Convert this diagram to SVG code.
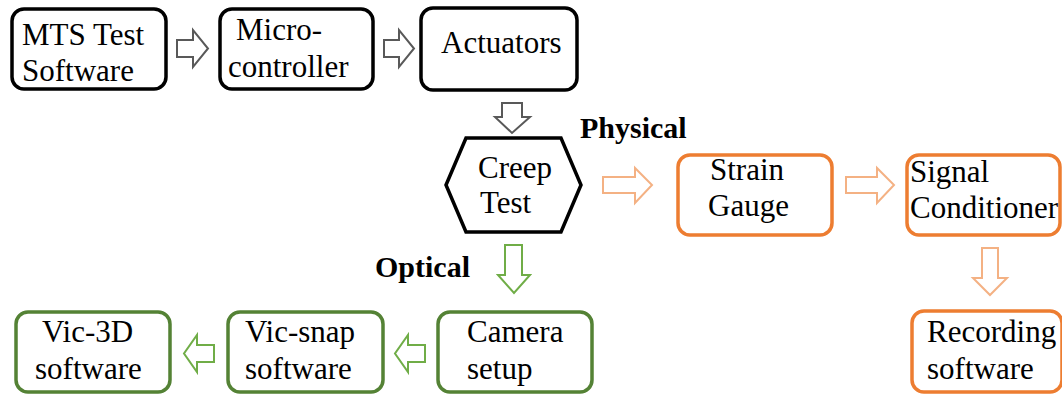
<svg xmlns="http://www.w3.org/2000/svg" width="1062" height="395" viewBox="0 0 1062 395">
<style>
.bg{fill:#fff}
.bk{fill:#fff;stroke:#000;stroke-width:3.5}
.or{fill:#fff;stroke:#ED7D31;stroke-width:3.5}
.gr{fill:#fff;stroke:#548235;stroke-width:3.5}
text{font-family:'Liberation Serif','DejaVu Serif',serif}
.t{font-size:31px;fill:#000}
.b{font-size:30px;font-weight:bold;fill:#000}
.ag{fill:#fff;stroke:#595959;stroke-width:2}
.ao{fill:#fff;stroke:#F4B183;stroke-width:2}
.aG{fill:#fff;stroke:#70AD47;stroke-width:2}
</style>
<rect class="bg" x="0" y="0" width="1062" height="395"/>
<g id="connectors">
<path class="ag" d="M177,40 H193 V30 L208,48.5 L193,67 V57 H177 Z"/>
<path class="ag" d="M384,40 H399 V30 L414,48.5 L399,67 V57 H384 Z"/>
<path class="ag" d="M502,103 H522 V117 H530 L512,133 L495,117 H502 Z"/>
<path class="ao" d="M603,177 H635 V168 L652,185 L635,203 V193 H603 Z"/>
<path class="ao" d="M846,177 H877 V168 L894,185 L877,203 V193 H846 Z"/>
<path class="ao" d="M982,248 H998 V278 H1007 L990,295 L973,278 H982 Z"/>
<path class="aG" d="M505,245 H522 V275 H530 L514,293 L498,275 H505 Z"/>
<path class="aG" d="M425,345 H408 V335 L395,353.5 L408,372 V362 H425 Z"/>
<path class="aG" d="M214,345 H197 V335 L184,353.5 L197,372 V362 H214 Z"/>
</g>
<g id="mts"><rect class="bk" x="12" y="9" width="154" height="80" rx="12"/><text class="t" x="22" y="45">MTS Test</text><text class="t" x="22" y="81">Software</text></g>
<g id="micro"><rect class="bk" x="220" y="9" width="153" height="80" rx="12"/><text class="t" x="236" y="40">Micro-</text><text class="t" x="228" y="77">controller</text></g>
<g id="actuators"><rect class="bk" x="421" y="8" width="156" height="82" rx="12"/><text class="t" x="441" y="53">Actuators</text></g>
<g id="creep"><polygon class="bk" points="446,185 466,138 561,138 581,185 561,232 466,232"/><text class="t" x="478" y="178">Creep</text><text class="t" x="480" y="213">Test</text></g>
<text class="b" x="580" y="138">Physical</text>
<g id="strain"><rect class="or" x="678" y="155" width="154" height="80" rx="12"/><text class="t" x="710" y="180">Strain</text><text class="t" x="708" y="216">Gauge</text></g>
<g id="signal"><rect class="or" x="907" y="155" width="153" height="80" rx="12"/><text class="t" x="910" y="182">Signal</text><text class="t" x="910" y="218">Conditioner</text></g>
<g id="recording"><rect class="or" x="912" y="311" width="150" height="81" rx="12"/><text class="t" x="927" y="342">Recording</text><text class="t" x="927" y="379">software</text></g>
<text class="b" x="375" y="277">Optical</text>
<g id="camera"><rect class="gr" x="438" y="312" width="154" height="80" rx="12"/><text class="t" x="467" y="342">Camera</text><text class="t" x="467" y="379">setup</text></g>
<g id="vicsnap"><rect class="gr" x="228" y="312" width="155" height="80" rx="12"/><text class="t" x="245" y="342">Vic-snap</text><text class="t" x="245" y="379">software</text></g>
<g id="vic3d"><rect class="gr" x="16" y="312" width="154" height="80" rx="12"/><text class="t" x="42" y="342">Vic-3D</text><text class="t" x="35" y="379">software</text></g>
</svg>
